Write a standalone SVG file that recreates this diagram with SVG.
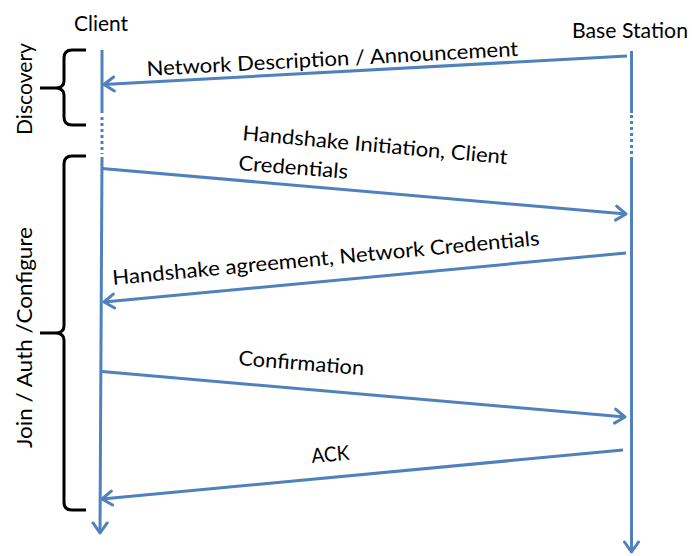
<svg xmlns="http://www.w3.org/2000/svg" width="692" height="556" viewBox="0 0 692 556">
<defs>
<style>
.t{font-family:Lato,"Open Sans","Liberation Sans",sans-serif;font-size:20.5px;fill:#000}
.h{font-size:22px}
.ll{stroke:#4F81BD;stroke-width:3;fill:none}
.dot{stroke:#4F81BD;stroke-width:3;fill:none;stroke-dasharray:3 3}
.msg{stroke:#4F81BD;stroke-width:3;fill:none;marker-end:url(#ah)}
.br{stroke:#000;stroke-width:3;fill:none;stroke-linejoin:round}
</style>
<marker id="ah" markerUnits="userSpaceOnUse" viewBox="-13 -9 15 18" markerWidth="15" markerHeight="18" refX="0" refY="0" orient="auto">
<path d="M-10,-7 L0,0 L-10,7" fill="none" stroke="#4F81BD" stroke-width="3" stroke-linejoin="round" stroke-linecap="round"/>
</marker>
</defs>
<g id="client">
<text class="t h" x="74" y="31" textLength="54" lengthAdjust="spacingAndGlyphs">Client</text>
</g>
<g id="base-station">
<text class="t h" x="572" y="37.5" textLength="116" lengthAdjust="spacingAndGlyphs">Base Station</text>
</g>
<g id="discovery">
<path class="br" d="M86,50 L72,50 Q64,50 64,58 L64,81 Q64,88 55,88 L40,88 M55,88 Q64,88 64,95 L64,117 Q64,125 72,125 L86,125"/>
<text class="t h" transform="rotate(-90 32 135)" x="32" y="135" textLength="92" lengthAdjust="spacingAndGlyphs">Discovery</text>
</g>
<g id="join-auth-configure">
<path class="br" d="M86,156 L72,156 Q64,156 64,164 L64,326 Q64,333 55,333 L40,333 M55,333 Q64,333 64,340 L64,502 Q64,510 72,510 L86,510"/>
<text class="t h" transform="rotate(-90 32 448)" x="32" y="448" textLength="221" lengthAdjust="spacingAndGlyphs">Join / Auth /Configure</text>
</g>
<g id="connectors">
<line class="ll" x1="102" y1="50" x2="102" y2="113"/>
<line class="dot" x1="102" y1="117" x2="102" y2="154"/>
<line class="ll" x1="102" y1="157" x2="100" y2="533" marker-end="url(#ah)"/>
<line class="ll" x1="631.5" y1="51" x2="631.5" y2="113"/>
<line class="dot" x1="631.5" y1="115" x2="631.5" y2="154"/>
<line class="ll" x1="631.5" y1="157" x2="631.5" y2="552" marker-end="url(#ah)"/>
<line class="msg" x1="627" y1="56" x2="104" y2="84.5"/>
<line class="msg" x1="102" y1="168.5" x2="626" y2="214"/>
<line class="msg" x1="626" y1="253" x2="104" y2="302"/>
<line class="msg" x1="102" y1="371.5" x2="625" y2="417"/>
<line class="msg" x1="623" y1="450" x2="102" y2="499"/>
<text class="t" transform="rotate(-3.1 147 76)" x="147" y="76" textLength="372" lengthAdjust="spacingAndGlyphs">Network Description / Announcement</text>
<text class="t" transform="rotate(5.2 242 140)" x="242" y="140" textLength="266" lengthAdjust="spacingAndGlyphs">Handshake Initiation, Client</text>
<text class="t" transform="rotate(4.5 238 170)" x="238" y="170" textLength="110" lengthAdjust="spacingAndGlyphs">Credentials</text>
<text class="t" transform="rotate(-5.35 113 285)" x="113" y="285" textLength="429" lengthAdjust="spacingAndGlyphs">Handshake agreement, Network Credentials</text>
<text class="t" transform="rotate(4.6 238 365)" x="238" y="365" textLength="126" lengthAdjust="spacingAndGlyphs">Confirmation</text>
<text class="t" transform="rotate(-5 312 463)" x="312" y="463" textLength="38" lengthAdjust="spacingAndGlyphs">ACK</text>
</g>
</svg>
